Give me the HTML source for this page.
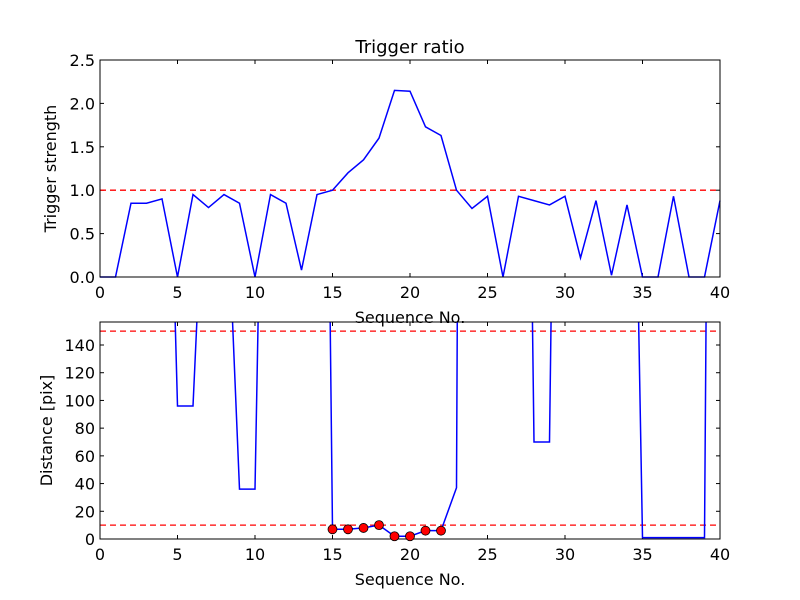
<!DOCTYPE html>
<html><head><meta charset="utf-8"><style>
body{margin:0;background:#fff;}
svg{display:block;font-family:"DejaVu Sans","Liberation Sans",sans-serif;}
</style></head><body>
<svg id="c" width="800" height="600" viewBox="0 0 800 600"></svg>
<script>
const xTicks = [0,5,10,15,20,25,30,35,40];
const topYTicks = ["0.0","0.5","1.0","1.5","2.0","2.5"];
const botYTicks = [0,20,40,60,80,100,120,140];
const seqNo = Array.from({length:41},(_,i)=>i);
const strength = [0,0,0.85,0.85,0.9,0,0.95,0.8,0.95,0.85,0,0.95,0.85,0.08,0.95,1.0,1.2,1.35,1.6,2.15,2.14,1.73,1.63,1.0,0.79,0.93,0,0.93,0.88,0.83,0.93,0.22,0.88,0.02,0.83,0,0,0.93,0,0,0.88];
const distance = [1000,1000,1000,1000,503,96,96,340,305,36,36,641,1000,1000,1007,7,7,8,10,2,2,6,6,37,2437,1000,1000,940,70,70,940,1000,1000,1000,625,1,1,1,1,1,1561];
const markerIdx = [15,16,17,18,19,20,21,22];
const strengthThreshold = [1.0];
const distanceThresholds = [150,10];

const NS="http://www.w3.org/2000/svg";
const svg=document.getElementById('c');
function mk(tag,attrs,parent){const e=document.createElementNS(NS,tag);for(const k in attrs)e.setAttribute(k,attrs[k]);(parent||svg).appendChild(e);return e;}
const X0=100,X1=720;
const sx=v=>X0+(v-0)/(40-0)*(X1-X0);

function axes(name,top,bot,ymin,ymax,yticks,ylabel,ylabelX){
  const sy=v=>bot-(v-ymin)/(ymax-ymin)*(bot-top);
  const g=mk('g',{});
  
  
  const clipId=name+'-clip';
  const cp=mk('clipPath',{id:clipId},g);mk('rect',{x:X0-2,y:top,width:X1-X0+4,height:bot-top+2},cp);
  xTicks.forEach(t=>{
    const x=sx(t);
    mk('line',{x1:x,x2:x,y1:bot,y2:bot-4,stroke:'#000'},g);
    mk('line',{x1:x,x2:x,y1:top,y2:top+4,stroke:'#000'},g);
    const tx=mk('text',{x:x,y:bot+21,'font-size':16,'text-anchor':'middle'},g);tx.textContent=t;
    
    
  });
  yticks.forEach(t=>{
    const y=sy(parseFloat(t));
    mk('line',{x1:X0,x2:X0+4,y1:y,y2:y,stroke:'#000'},g);
    mk('line',{x1:X1,x2:X1-4,y1:y,y2:y,stroke:'#000'},g);
    const tx=mk('text',{x:X0-5,y:y+6,'font-size':16,'text-anchor':'end'},g);tx.textContent=t;
    
    
  });
  const xl=mk('text',{x:(X0+X1)/2,y:bot+46,'font-size':16,'text-anchor':'middle'},g);xl.textContent='Sequence No.';
  
  
  const yl=mk('text',{x:ylabelX,y:(top+bot)/2,'font-size':16,'text-anchor':'middle',transform:`rotate(-90 ${ylabelX} ${(top+bot)/2})`},g);yl.textContent=ylabel;
  
  
  const plot=mk('g',{'clip-path':`url(#${clipId})`},g);
  return {sy,plot,g,top,bot};
}

// Top
const A=axes('trigger-strength-axes',60,277,0,2.5,topYTicks,'Trigger strength',56);
mk('rect',{x:X0,y:60,width:X1-X0,height:217,fill:'none',stroke:'#000'},A.g);
strengthThreshold.forEach(v=>{const l=mk('line',{x1:X0,x2:X1,y1:A.sy(v),y2:A.sy(v),stroke:'#f00','stroke-width':1.3,'stroke-dasharray':'6,4'},A.plot);

});
const p1=mk('polyline',{points:strength.map((v,i)=>sx(seqNo[i])+','+A.sy(v)).join(' '),fill:'none',stroke:'#00f','stroke-width':1.5},A.plot);


const title=mk('text',{x:410,y:53,'font-size':18,'text-anchor':'middle'});title.textContent='Trigger ratio';



// Bottom
const B=axes('distance-axes',322,539,0,156.6,botYTicks.map(String),'Distance [pix]',52);
mk('rect',{x:X0,y:322,width:X1-X0,height:217,fill:'none',stroke:'#000'},B.g);
distanceThresholds.forEach(v=>{const l=mk('line',{x1:X0,x2:X1,y1:B.sy(v),y2:B.sy(v),stroke:'#f00','stroke-width':1.3,'stroke-dasharray':'6,4'},B.plot);

});
const p2=mk('polyline',{points:distance.map((v,i)=>sx(seqNo[i])+','+B.sy(v)).join(' '),fill:'none',stroke:'#00f','stroke-width':1.5},B.plot);


markerIdx.forEach(i=>{const c=mk('circle',{cx:sx(seqNo[i]),cy:B.sy(distance[i]),r:4.5,fill:'#f00',stroke:'#000','stroke-width':0.8},B.g);

});
</script>
</body></html>
